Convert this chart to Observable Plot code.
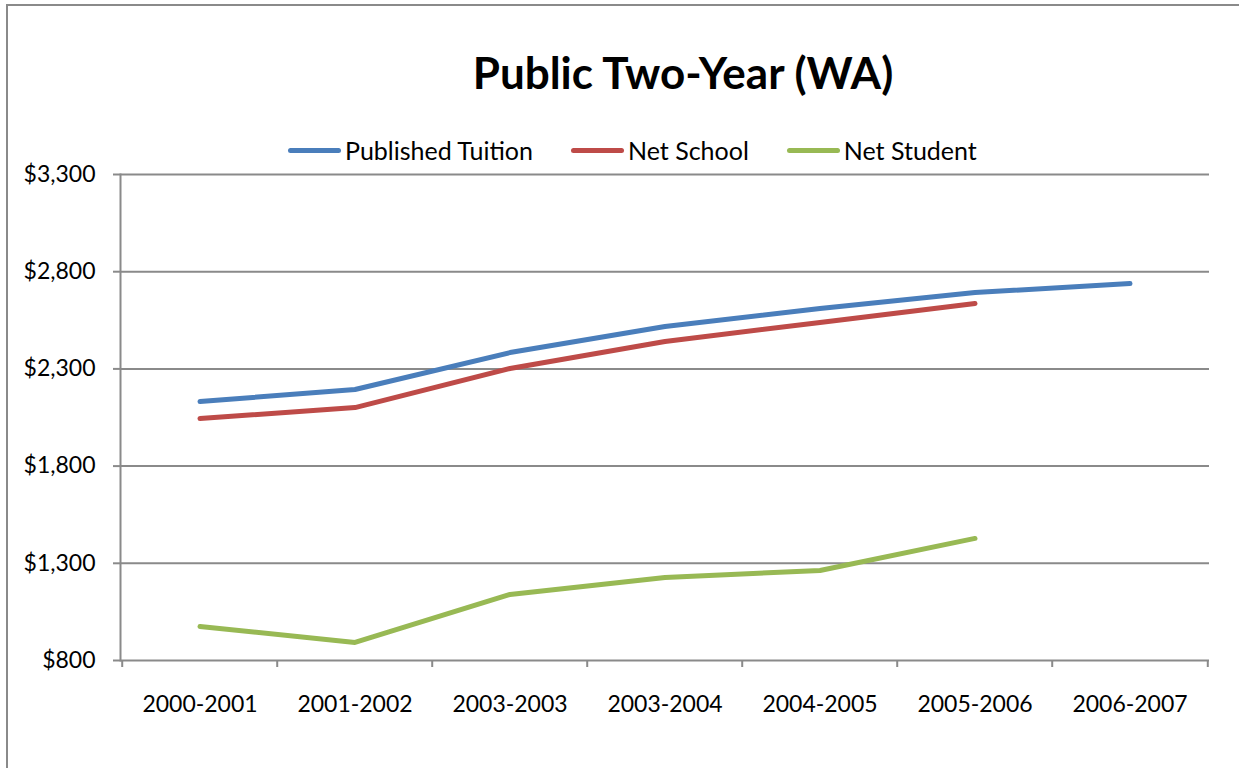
<!DOCTYPE html>
<html>
<head>
<meta charset="utf-8">
<script src="https://cdn.jsdelivr.net/npm/d3@7"></script>
<script src="https://cdn.jsdelivr.net/npm/@observablehq/plot@0.6"></script>
<style>
  html, body { margin: 0; padding: 0; background: #fff; }
  #page { position: relative; width: 1239px; height: 768px; overflow: hidden; font-family: Lato, sans-serif; }
  #frame { position: absolute; left: 6px; top: 4px; width: 1400px; height: 900px; border-left: 2px solid #8a8a8a; border-top: 2px solid #8a8a8a; }
  #title { position: absolute; left: 0; width: 1366px; top: 43px; text-align: center; font-weight: bold; font-size: 44px; line-height: 58px; color: #000; }
  #legend { position: absolute; left: 288px; top: 134px; display: flex; align-items: center; font-size: 25px; line-height: 32px; color: #000; }
  .item { display: flex; align-items: center; margin-right: 38px; }
  .sw { width: 53px; height: 5px; border-radius: 3px; margin-right: 4px; }
  #chart { position: absolute; left: 0; top: 160px; }
</style>
</head>
<body>
<div id="page">
  <div id="frame"></div>
  <div id="title"></div>
  <div id="legend"></div>
  <div id="chart"></div>
</div>
<script>
const chartTitle = "Public Two-Year (WA)";
const categories = ["2000-2001","2001-2002","2003-2003","2003-2004","2004-2005","2005-2006","2006-2007"];
const seriesNames = ["Published Tuition","Net School","Net Student"];
const publishedTuition = [2132, 2194, 2384, 2518, 2611, 2693, 2739];
const netSchool = [2045, 2101, 2302, 2441, 2539, 2636, null];
const netStudent = [975, 893, 1140, 1227, 1263, 1428, null];
const seriesColors = ["#4A7EBB", "#BE4B48", "#98B954"];
const yTicks = [800, 1300, 1800, 2300, 2800, 3300];

document.getElementById("title").textContent = chartTitle;

const legend = document.getElementById("legend");
seriesNames.forEach((name, i) => {
  const item = document.createElement("div");
  item.className = "item";
  const sw = document.createElement("div");
  sw.className = "sw";
  sw.style.background = seriesColors[i];
  const label = document.createElement("span");
  label.textContent = name;
  item.appendChild(sw);
  item.appendChild(label);
  legend.appendChild(item);
});

const seriesValues = [publishedTuition, netSchool, netStudent];
const data = [];
seriesNames.forEach((name, s) => {
  categories.forEach((c, i) => {
    const v = seriesValues[s][i];
    if (v != null) data.push({series: name, category: c, value: v});
  });
});

const W = 1239, H = 600, ML = 120, MR = 30, MT = 14, MB = 100;
const bw = (W - ML - MR) / categories.length;
const gray = "#8a8a8a";

const chart = Plot.plot({
  width: W,
  height: H,
  marginTop: MT,
  marginBottom: MB,
  marginLeft: ML,
  marginRight: MR,
  style: {fontFamily: "Lato, sans-serif", fontSize: "23px", color: "#000", background: "transparent", overflow: "visible"},
  x: {type: "band", domain: categories, padding: 0, label: null},
  y: {domain: [800, 3300], label: null},
  color: {domain: seriesNames, range: seriesColors},
  marks: [
    Plot.ruleY(yTicks, {stroke: gray, strokeWidth: 2, strokeOpacity: 1}),
    Plot.frame({anchor: "left", stroke: gray, strokeWidth: 2, strokeOpacity: 1}),
    Plot.axisY({ticks: yTicks, tickSize: 7, tickPadding: 18, stroke: gray, strokeWidth: 2, strokeOpacity: 1,
      tickFormat: d => "$" + d3.format(",")(d), label: null, fill: "#000"}),
    Plot.axisX({tickSize: 7, tickFormat: () => "", dx: -bw / 2, stroke: gray, strokeWidth: 2, strokeOpacity: 1, label: null}),
    Plot.axisX({ticks: [categories[categories.length - 1]], tickSize: 7, tickFormat: () => "", dx: bw / 2, stroke: gray, strokeWidth: 2, strokeOpacity: 1, label: null}),
    Plot.axisX({tickSize: 0, tickPadding: 35, label: null, fill: "#000"}),
    Plot.line(data, {x: "category", y: "value", z: "series", stroke: "series", strokeWidth: 5, strokeLinecap: "round", strokeLinejoin: "round"})
  ]
});
document.getElementById("chart").appendChild(chart);
</script>
</body>
</html>
